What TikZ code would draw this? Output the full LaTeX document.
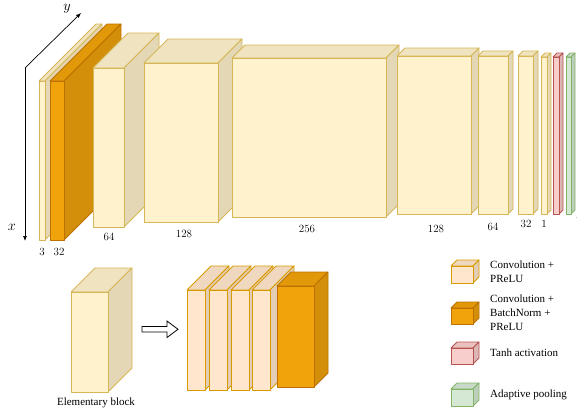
\documentclass[tikz,border=0pt]{standalone}
\usepackage{fontspec}
\newfontfamily\legfont{Liberation Serif}
\usetikzlibrary{arrows.meta}
\definecolor{yelF}{HTML}{FFF2CC}\definecolor{yelD}{HTML}{D6B656}
\definecolor{pchF}{HTML}{FFE6CC}\definecolor{pchD}{HTML}{D79B00}
\definecolor{ambF}{HTML}{F0A30A}\definecolor{ambD}{HTML}{BD7000}
\definecolor{redF}{HTML}{F8CECC}\definecolor{redD}{HTML}{B85450}
\definecolor{grnF}{HTML}{D5E8D4}\definecolor{grnD}{HTML}{82B366}
\colorlet{yelT}{yelF!94!black}\colorlet{yelS}{yelF!89!black}
\colorlet{pchT}{pchF!94!black}\colorlet{pchS}{pchF!89!black}
\colorlet{ambT}{ambF!94!black}\colorlet{ambS}{ambF!88!black}
\colorlet{redT}{redF!94!black}\colorlet{redS}{redF!89!black}
\colorlet{grnT}{grnF!94!black}\colorlet{grnS}{grnF!89!black}
% #1 x1, #2 y1, #3 x2, #4 y2, #5 depth, #6 colour prefix
\newcommand\boxcube[6]{%
  \filldraw[fill=#6T, draw=#6D, cubeline] (#1,#2) -- ({#1+#5},{#2-#5}) -- ({#3+#5},{#2-#5}) -- (#3,#2) -- cycle;
  \filldraw[fill=#6S, draw=#6D, cubeline] (#3,#2) -- ({#3+#5},{#2-#5}) -- ({#3+#5},{#4-#5}) -- (#3,#4) -- cycle;
  \filldraw[fill=#6F, draw=#6D, cubeline] (#1,#2) rectangle (#3,#4);
}
\begin{document}
\begin{tikzpicture}[x=1pt,y=-1pt,
  cubeline/.style={line width=0.8pt, line join=round},
  num/.style={inner sep=0pt, font=\fontsize{11}{13}\selectfont},
  leg/.style={inner sep=0pt, anchor=west, align=left, font=\legfont\fontsize{11}{14}\selectfont},
  axis/.style={line width=0.7pt, -{Latex[length=5pt,width=4pt]}}]
\useasboundingbox (0,0) rectangle (577,413);
\clip (0,0) rectangle (577,413);
% axes
\coordinate (o) at (25,68);
\coordinate (ytip) at (81,13);
\coordinate (xtip) at (25,241);
\draw[axis] (o) -- (ytip);
\draw[axis] (o) -- (xtip);
\node[inner sep=0pt, font=\fontsize{15}{18}\selectfont] (ylab) at (67,9) {$y$};
\node[inner sep=0pt, font=\fontsize{15}{18}\selectfont] (xlab) at (12,227) {$x$};
% main row
\boxcube{39}{81}{45}{240}{57}{yel}
\boxcube{50}{81}{64}{240}{57}{amb}
\boxcube{93}{68}{124}{227}{35}{yel}
\boxcube{144}{63}{218}{222}{24}{yel}
\boxcube{232}{58}{386}{217}{13}{yel}
\boxcube{397}{56}{471}{214}{8}{yel}
\boxcube{478}{56}{508}{214}{5}{yel}
\boxcube{518}{56}{533}{214}{5}{yel}
\boxcube{541}{57}{547}{214}{4}{yel}
\boxcube{553}{57}{559}{214}{4}{red}
\boxcube{566}{57}{571}{214}{4}{grn}
% labels
\node[num] (l3) at (42,252) {3};
\node[num] (l32) at (59,252) {32};
\node[num] (l64) at (109,237) {64};
\node[num] (l128) at (184,234) {128};
\node[num] (l256) at (307,229) {256};
\node[num] (l128b) at (436,229) {128};
\node[num] (l64b) at (493,227) {64};
\node[num] (l32b) at (526,224) {32};
\node[num] (l1) at (544,224) {1};
\node[num] (l3b) at (579,216) {3};
% elementary block
\boxcube{71}{292}{108}{392}{24}{yel}
\node[inner sep=0pt, font=\legfont\fontsize{11}{13}\selectfont] (elab) at (96,403) {Elementary block};
\filldraw[fill=white, draw=black, line width=0.8pt, line join=miter]
  (142,326.5) -- (167,326.5) -- (167,321) -- (178,329.3) -- (167,337.5) -- (167,332) -- (142,332) -- cycle;
\boxcube{187}{290}{205}{390}{24}{pch}
\boxcube{209}{290}{227}{390}{24}{pch}
\boxcube{231}{290}{249}{390}{24}{pch}
\boxcube{252}{290}{270}{390}{24}{pch}
\boxcube{277}{286}{314}{387}{14}{amb}
% legend
\boxcube{451}{266}{473}{283}{6}{pch}
\boxcube{451}{308}{473}{324}{6}{amb}
\boxcube{451}{348}{473}{364}{6}{red}
\boxcube{451}{389}{473}{406}{6}{grn}
\node[leg] (t1) at (490,272) {Convolution +\\PReLU};
\node[leg] (t2) at (490,313) {Convolution +\\BatchNorm +\\PReLU};
\node[leg] (t3) at (490,353) {Tanh activation};
\node[leg] (t4) at (490,395) {Adaptive pooling};
\end{tikzpicture}
\end{document}
